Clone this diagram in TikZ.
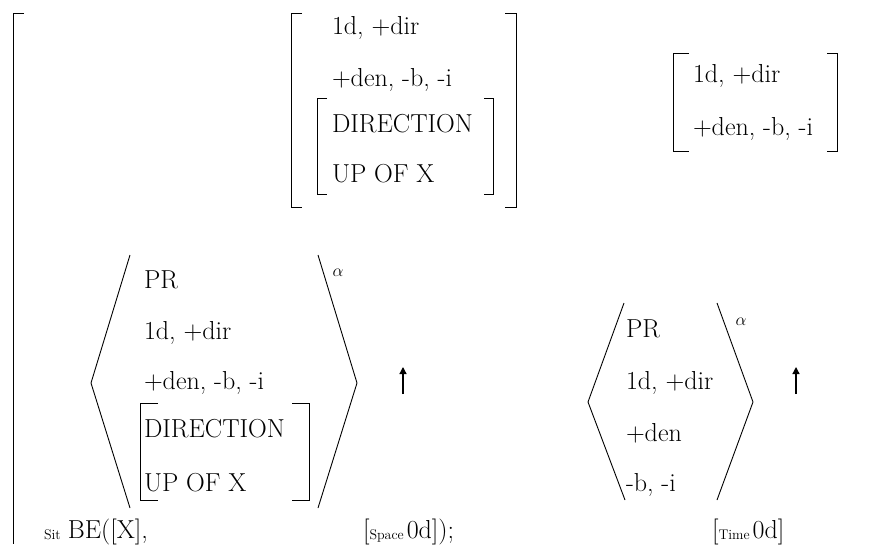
\documentclass[tikz,border=0pt]{standalone}
\usepackage{fontspec}
\usetikzlibrary{arrows.meta}
\begin{document}
\begin{tikzpicture}[x=1pt,y=-1pt,
  every node/.style={inner sep=0pt,outer sep=0pt},
  txt/.style={anchor=base west,font=\fontsize{26}{30}\selectfont},
  brk/.style={line width=0.9pt},
  ang/.style={line width=0.9pt},
  alph/.style={font=\fontsize{16}{18}\selectfont},
  uparr/.style={line width=1.3pt,-{Triangle[length=7pt,width=7pt]}}]
\newcommand{\subsz}[1]{{\fontsize{14}{16}\selectfont #1}}
\useasboundingbox (0,0) rectangle (873,544);
% big bracket
\draw[brk] (24,13) -- (13,13) -- (13,544);
% top middle matrix
\draw[brk] (302,13) -- (291,13) -- (291,207) -- (302,207);
\draw[brk] (505,13) -- (516,13) -- (516,207) -- (505,207);
\node[txt] (tm1) at (332,34) {1d, +dir};
\node[txt] (tm2) at (332,86) {+den, -b, -i};
\draw[brk] (327,98) -- (317,98) -- (317,194) -- (327,194);
\draw[brk] (484,98) -- (493,98) -- (493,194) -- (484,194);
\node[txt] (tm3) at (332,132) {DIRECTION};
\node[txt] (tm4) at (332,182) {UP OF X};
% top right matrix
\draw[brk] (689,53) -- (673,53) -- (673,151) -- (689,151);
\draw[brk] (827,53) -- (837,53) -- (837,151) -- (827,151);
\node[txt] (tr1) at (693,82) {1d, +dir};
\node[txt] (tr2) at (693,135) {+den, -b, -i};
% left angle group
\draw[ang] (130,255) -- (91,383) -- (130,508);
\draw[ang] (318,255) -- (357,383) -- (318,508);
\node[alph] (la) at (338,273) {$\alpha$};
\node[txt] (l1) at (144,288) {PR};
\node[txt] (l2) at (144,339) {1d, +dir};
\node[txt] (l3) at (144,389) {+den, -b, -i};
\draw[brk] (158,403) -- (140,403) -- (140,500) -- (158,500);
\draw[brk] (292,403) -- (309,403) -- (309,500) -- (292,500);
\node[txt] (l4) at (144,437) {DIRECTION};
\node[txt] (l5) at (144,491) {UP OF X};
\draw[uparr] (403,394) -- (403,367);
% right angle group
\draw[ang] (624,303) -- (588,402) -- (625,500);
\draw[ang] (717,303) -- (753,402) -- (717,500);
\node[alph] (ra) at (741,322) {$\alpha$};
\node[txt] (r1) at (626,337) {PR};
\node[txt] (r2) at (626,389) {1d, +dir};
\node[txt] (r3) at (626,441) {+den};
\node[txt] (r4) at (626,491) {-b, -i};
\draw[uparr] (796,394) -- (796,367);
% bottom line
\node[txt] (b1) at (44,538) {\raisebox{-1pt}{\subsz{Sit}}\hspace{7pt}BE([X],};
\node[txt] (b2) at (363,538) {[\raisebox{-1pt}{\subsz{Space}}\hspace{3pt}0d]);};
\node[txt] (b3) at (712,538) {[\raisebox{-1pt}{\subsz{Time}}\hspace{3pt}0d]};
\end{tikzpicture}
\end{document}
